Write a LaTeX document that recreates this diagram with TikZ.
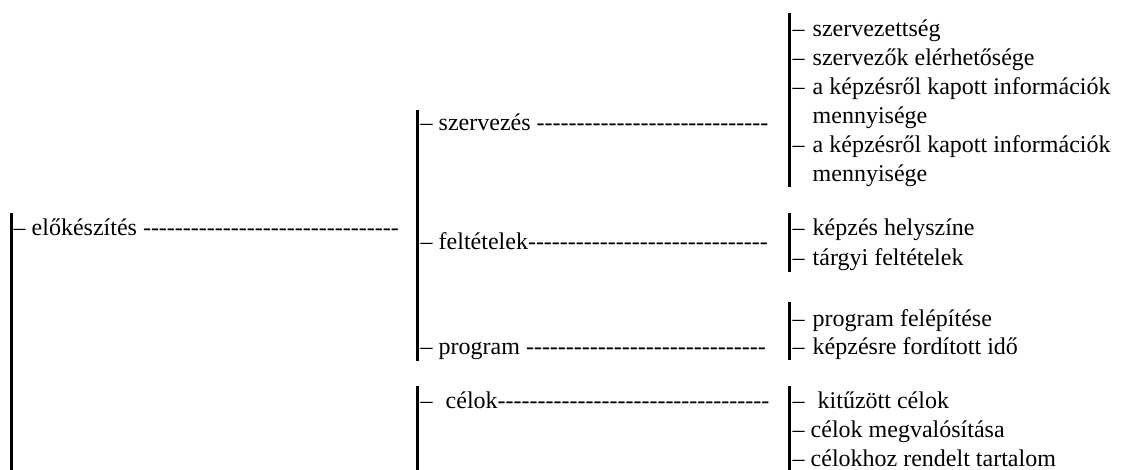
\documentclass[tikz,border=0pt]{standalone}
\usepackage{fontspec}
\setmainfont{Liberation Serif}
\newcount\hycnt
\newcommand\hyps[1]{\hycnt=0 \loop\ifnum\hycnt<#1 -{}\advance\hycnt by 1 \repeat}
\begin{document}
\begin{tikzpicture}[x=1pt,y=-1pt,
  every node/.style={inner sep=0pt, anchor=base west, font=\fontsize{24}{29}\selectfont},
  bar/.style={line width=2.4pt}]
\useasboundingbox (0,0) rectangle (1125,470);
% bars
\coordinate (a1) at (11.5,213); \coordinate (a2) at (11.5,470);
\coordinate (b1) at (417.5,110); \coordinate (b2) at (417.5,361);
\coordinate (b3) at (417.5,386); \coordinate (b4) at (417.5,470);
\coordinate (c1) at (789.5,13);  \coordinate (c2) at (789.5,187);
\coordinate (c3) at (789.5,213); \coordinate (c4) at (789.5,272);
\coordinate (c5) at (789.5,302); \coordinate (c6) at (789.5,360);
\coordinate (c7) at (789.5,386); \coordinate (c8) at (789.5,470);
\draw[bar] (a1) -- (a2);
\draw[bar] (b1) -- (b2);
\draw[bar] (b3) -- (b4);
\draw[bar] (c1) -- (c2);
\draw[bar] (c3) -- (c4);
\draw[bar] (c5) -- (c6);
\draw[bar] (c7) -- (c8);
% column 1
\node (elo) at (13.5,236) {– előkészítés \hyps{32}};
% column 2
\node (szerv) at (420.5,131) {– szervezés \hyps{29}};
\node (felt) at (420.5,250) {– feltételek\hyps{30}};
\node (prog) at (420.5,355) {– program \hyps{30}};
\node (cel) at (420.5,408) {–\hspace{13pt}célok\hyps{34}};
% column 3
\node (s1) at (792.5,37)  {–\hspace{8pt}szervezettség};
\node (s2) at (792.5,66)  {–\hspace{8pt}szervezők elérhetősége};
\node (s3) at (792.5,95)  {–\hspace{8pt}a képzésről kapott információk};
\node (s4) at (812.5,124) {mennyisége};
\node (s5) at (792.5,153) {–\hspace{8pt}a képzésről kapott információk};
\node (s6) at (812.5,182) {mennyisége};
\node (f1) at (792.5,236) {–\hspace{8pt}képzés helyszíne};
\node (f2) at (792.5,266) {–\hspace{8pt}tárgyi feltételek};
\node (p1) at (792.5,327) {–\hspace{8pt}program felépítése};
\node (p2) at (792.5,355) {–\hspace{8pt}képzésre fordított idő};
\node (g1) at (792.5,408) {–\hspace{13pt}kitűzött célok};
\node (g2) at (792.5,437) {– célok megvalósítása};
\node (g3) at (792.5,466) {– célokhoz rendelt tartalom};
\end{tikzpicture}
\end{document}
